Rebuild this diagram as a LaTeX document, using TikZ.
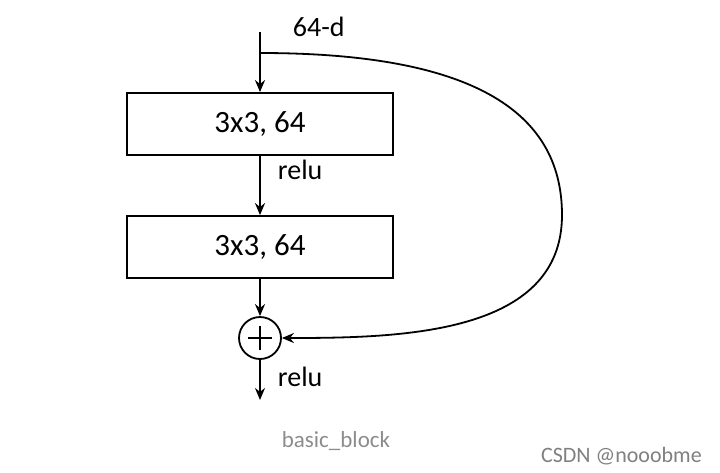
\documentclass[tikz,border=0pt]{standalone}
\usepackage{fontspec}
\setmainfont{Carlito}
\usetikzlibrary{arrows.meta, positioning}

\begin{document}
\begin{tikzpicture}[x=1pt,y=-1pt,line width=1.8pt,>={Stealth[length=12pt,width=10pt]},
                    layer/.style={rectangle,draw,minimum width=266pt,minimum height=62pt,
                                  font=\fontsize{31}{34}\selectfont},
                    sum/.style={circle,draw,minimum size=42pt,inner sep=0pt},
                    lbl/.style={font=\fontsize{28}{31}\selectfont,inner sep=0pt},
                    ] 
  \useasboundingbox (0,0) rectangle (720,472);

  \coordinate (in) at (260,32);
  \coordinate (split) at (260,53);
  \node[layer] (conv1) at (260,124) {3x3, 64};
  \node[layer] (conv2) at (260,247) {3x3, 64};
  \node[sum] (plus) at (260,338) {};
  \coordinate (out) at (260,400);

  % plus sign
  \draw[line width=1.5pt] ([xshift=-12pt]plus.center) -- ([xshift=12pt]plus.center)
        ([yshift=-12pt]plus.center) -- ([yshift=12pt]plus.center);

  \node[lbl,anchor=west] (dim) at (292,27) {64-d};
  \node[lbl,anchor=west] (relu1) at (277,170) {relu};
  \node[lbl,anchor=west] (relu2) at (277,377) {relu};

  \draw[->] (in) -- (conv1);
  \draw[->] (conv1) -- (conv2);
  \draw[->] (conv2) -- (plus);
  \draw[->] (plus) -- (out);
  \draw[->] (split) .. controls (470,53) and (562,110) .. (562,215)
                    .. controls (562,335) and (400,338) .. (plus.east);

  \node[font=\fontsize{23}{26}\selectfont,text=black!45] (cap) at (336,441) {basic\_block};
  \node[font=\fontsize{22}{25}\selectfont,text=black!50,anchor=east] (mark) at (706,456) {CSDN @nooobme};
\end{tikzpicture}
\end{document}
